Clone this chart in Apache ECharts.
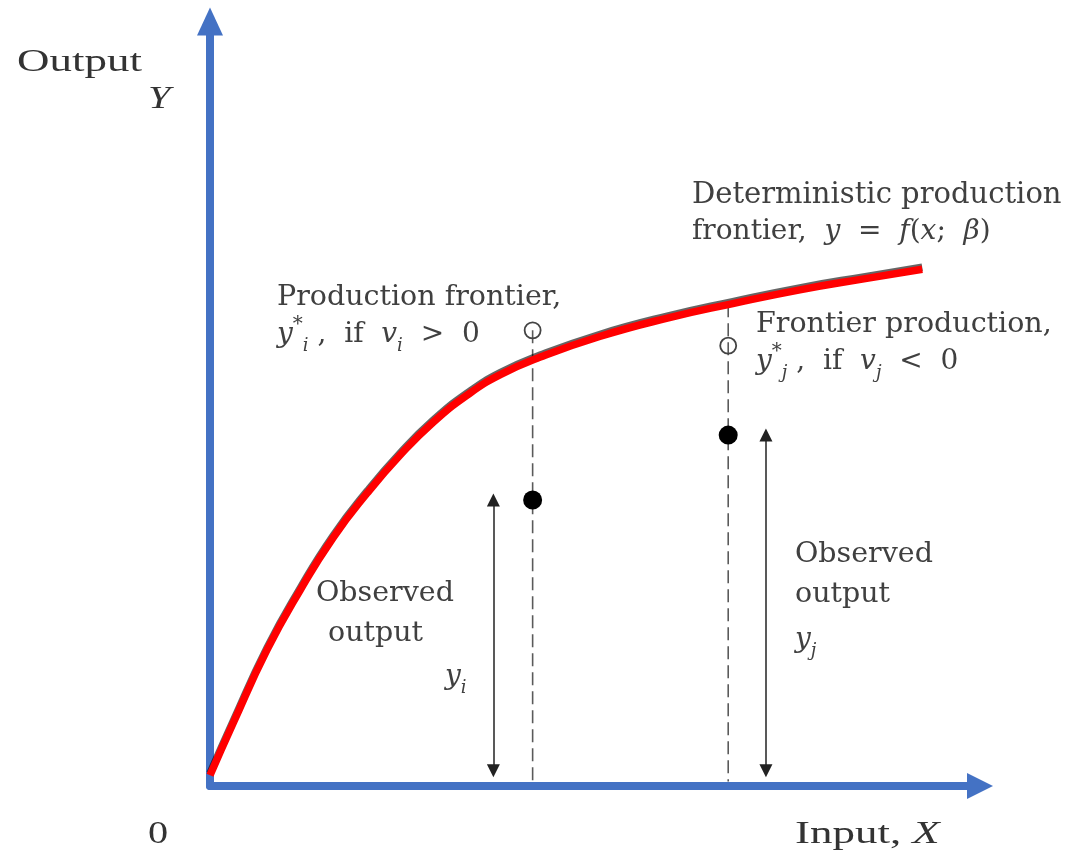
<!DOCTYPE html>
<html>
<head>
<meta charset="utf-8">
<script src="https://cdn.jsdelivr.net/npm/echarts@6/dist/echarts.min.js"></script>
<style>html,body{margin:0;padding:0;background:#fff;}#c{width:1065px;height:856px;}</style>
</head>
<body>
<div id="c"></div>
<script>
// Deterministic production frontier y = f(x; beta) (input X, output Y)
const frontierX = [0, 0.30, 0.74, 1.17, 1.60, 2.04, 2.47, 2.90, 3.35, 3.77, 4.29, 5.06, 5.94, 6.79, 7.66, 8.53, 9.25];
const frontierY = [0.14, 0.82, 1.78, 2.56, 3.25, 3.83, 4.33, 4.76, 5.12, 5.38, 5.61, 5.88, 6.12, 6.31, 6.49, 6.64, 6.76];
// firms i and j
const firmX = [4.19, 6.73];
const observedY = [3.74, 4.59];          // observed output y_i, y_j (filled dots)
const stochFrontierY = [5.96, 5.76];     // y_i*, y_j* (open circles)
const guideTopY = [5.96, 6.30];          // top of vertical guide lines
const arrowX = [3.68, 7.22];             // observed-output double arrows
const arrowBottom = 0.2;

const chart = echarts.init(document.getElementById('c'));
const grid = {left: 210, top: 21.5, width: 770, height: 764.5};
const blue = '#4472C4';
const txt = '#404040';
const cm = 'DejaVu Serif';

const frontier = frontierX.map((x, k) => [x, frontierY[k]]);
const guides = firmX.map((x, k) => ({
  type: 'line', data: [[x, guideTopY[k]], [x, 0.06]], symbol: 'none', silent: true, z: 2,
  lineStyle: {color: '#5a5a5a', width: 1.6, type: [13, 6]}
}));

const mathRich = {
  n: {fontFamily: cm, fontSize: 28, lineHeight: 40, color: txt},
  it: {fontFamily: cm, fontSize: 28, fontStyle: 'italic', lineHeight: 40, color: txt},
  sub: {fontFamily: cm, fontSize: 18, fontStyle: 'italic', verticalAlign: 'bottom', lineHeight: 20, color: txt},
  sup: {fontFamily: cm, fontSize: 20, verticalAlign: 'top', lineHeight: 20, color: txt},
  xi: {fontFamily: 'Liberation Serif', fontSize: 31, fontStyle: 'italic', color: '#333'}
};
function t(x, y, text, opts) {
  opts = opts || {};
  return {
    type: 'text', x: x, y: y, scaleX: opts.scaleX || 1, z: 100,
    style: {
      x: 0, y: 0, text: text, align: 'left', verticalAlign: 'middle',
      fontFamily: opts.fam || cm, fontSize: opts.size || 28.5, fill: opts.color || txt,
      fontStyle: opts.style || 'normal', rich: mathRich
    }
  };
}

chart.setOption({
  animation: false,
  backgroundColor: '#fff',
  grid: grid,
  xAxis: {
    type: 'value', min: 0, max: 10,
    axisLine: {show: true, lineStyle: {color: blue, width: 8}, symbol: ['none', 'triangle'], symbolSize: [26, 26]},
    axisTick: {show: false}, axisLabel: {show: false}, splitLine: {show: false}
  },
  yAxis: {
    type: 'value', min: 0, max: 10,
    axisLine: {show: true, lineStyle: {color: blue, width: 8}, symbol: ['none', 'triangle'], symbolSize: [26, 28]},
    axisTick: {show: false}, axisLabel: {show: false}, splitLine: {show: false}
  },
  series: [
    ...guides,
    {
      type: 'lines', coordinateSystem: 'cartesian2d', silent: true, z: 3,
      symbol: ['triangle', 'triangle'], symbolSize: 13,
      lineStyle: {color: '#222', width: 1.5, opacity: 1},
      data: arrowX.map((x, k) => ({coords: [[x, observedY[k]], [x, arrowBottom]]}))
    },
    {
      type: 'line', data: frontier, smooth: 0.5, symbol: 'none', silent: true, z: 5,
      lineStyle: {color: '#ff0000', width: 7.5, shadowColor: 'rgba(0,0,0,0.6)', shadowOffsetY: -2, shadowBlur: 0}
    },
    {
      type: 'scatter', data: firmX.map((x, k) => [x, stochFrontierY[k]]), symbol: 'circle', symbolSize: 16, silent: true, z: 6,
      itemStyle: {color: 'rgba(255,255,255,0)', borderColor: '#444', borderWidth: 1.8, opacity: 1}
    },
    {
      type: 'scatter', data: firmX.map((x, k) => [x, observedY[k]]), symbol: 'circle', symbolSize: 19, silent: true, z: 6,
      itemStyle: {color: '#000', opacity: 1}
    }
  ],
  graphic: [
    t(17, 63, 'Output', {fam: 'Liberation Serif', size: 31, scaleX: 1.45, color: '#333'}),
    t(148, 100, 'Y', {fam: 'Liberation Serif', size: 31, scaleX: 1.3, style: 'italic', color: '#333'}),
    t(692, 195, 'Deterministic production', {size: 29}),
    t(692, 232, '{n|frontier,  }{it|y}{n|  =  }{it|f}{n|(}{it|x}{n|;  }{it|β}{n|)}'),
    t(277, 298, 'Production frontier,'),
    t(277, 335, '{it|y}{sup|*}{sub|i}{n| ,  if  }{it|v}{sub|i}{n|  >  0}'),
    t(756, 325, 'Frontier production,'),
    t(756, 362, '{it|y}{sup|*}{sub|j}{n| ,  if  }{it|v}{sub|j}{n|  <  0}'),
    t(316, 594, 'Observed'),
    t(328, 634, 'output'),
    t(445, 677, '{it|y}{sub|i}'),
    t(795, 555, 'Observed'),
    t(795, 595, 'output'),
    t(795, 640, '{it|y}{sub|j}'),
    t(148, 835, '0', {fam: 'Liberation Serif', size: 31, scaleX: 1.3, color: '#333'}),
    t(795, 835, 'Input, {xi|X}', {fam: 'Liberation Serif', size: 31, scaleX: 1.45, color: '#333'})
  ]
});
</script>
</body>
</html>
